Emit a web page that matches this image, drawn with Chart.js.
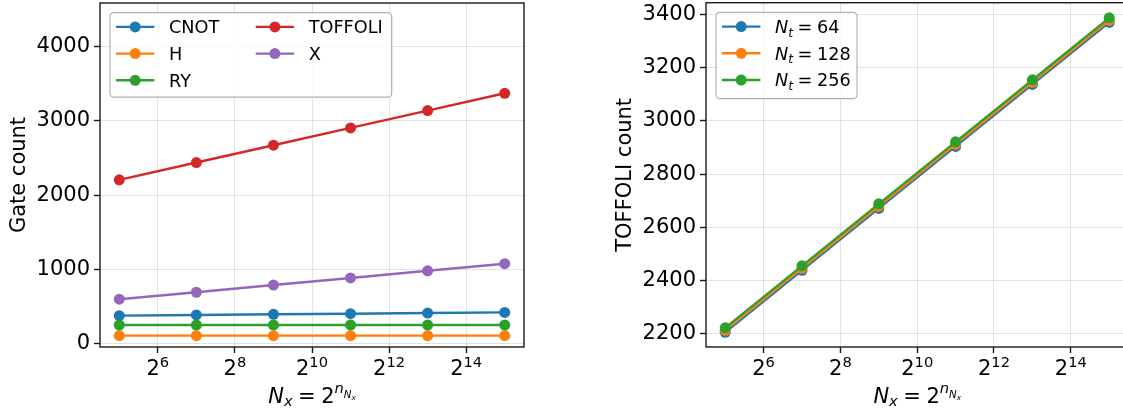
<!DOCTYPE html>
<html>
<head>
<meta charset="utf-8">
<script src="https://cdn.jsdelivr.net/npm/chart.js@4.4.1/dist/chart.umd.min.js"></script>
<style>
  html, body { margin: 0; padding: 0; background: #fff; overflow: hidden; width: 1123px; height: 413px; }
  canvas { position: absolute; top: 0; }
  #gates { left: 0; }
  #toffoli { left: 560px; }
</style>
</head>
<body>
<canvas id="gates" width="560" height="413"></canvas>
<canvas id="toffoli" width="600" height="413"></canvas>
<script>
// Grid sizes N_x = 2^n
const sizesNx = [32, 128, 512, 2048, 8192, 32768];
const xTickValues = [64, 256, 1024, 4096, 16384];
const xTickExponents = ['6', '8', '10', '12', '14'];

// Gate counts per gate type
const gateNames = ['CNOT', 'H', 'RY', 'TOFFOLI', 'X'];
const cnotCount = [377, 386, 395, 403, 412, 421];
const hCount = [108, 108, 108, 108, 108, 108];
const ryCount = [251, 251, 251, 251, 251, 251];
const toffoliCount = [2205, 2438, 2671, 2904, 3137, 3370];
const xCount = [598, 692, 789, 884, 981, 1076];
const gateTicks = [0, 1000, 2000, 3000, 4000];

// TOFFOLI counts for several time-step counts N_t
const ntLabels = ['64', '128', '256'];
const toffoliNt64 = [2205, 2438, 2671, 2904, 3137, 3370];
const toffoliNt128 = [2213, 2446, 2679, 2912, 3145, 3378];
const toffoliNt256 = [2222, 2455, 2688, 2921, 3154, 3387];
const toffoliTicks = [2200, 2400, 2600, 2800, 3000, 3200, 3400];

const C = { blue: '#1f77b4', orange: '#ff7f0e', green: '#2ca02c', red: '#d62728', purple: '#9467bd' };
const FAMILY = "'DejaVu Sans', sans-serif";
const GRID = 'rgba(176,176,176,0.35)';
const INK = '#000';
const LINE_W = 2.4;
const MARK_R = 5.5;

function font(size, italic) {
  return (italic ? 'italic ' : '') + size + 'px ' + FAMILY;
}

// Draw a sequence of text runs (used for math-style labels with sub/superscripts)
function runsWidth(ctx, runs) {
  let w = 0;
  for (const r of runs) {
    ctx.font = font(r.size, r.italic);
    w += (r.gap || 0) + ctx.measureText(r.t).width;
  }
  return w;
}
function drawRuns(ctx, runs, x, y, align) {
  let cx = align === 'center' ? x - runsWidth(ctx, runs) / 2 : x;
  ctx.textAlign = 'left';
  ctx.textBaseline = 'alphabetic';
  ctx.fillStyle = INK;
  for (const r of runs) {
    cx += r.gap || 0;
    ctx.font = font(r.size, r.italic);
    ctx.fillText(r.t, cx, y + (r.dy || 0));
    cx += ctx.measureText(r.t).width;
  }
}

const xTitleRuns = [
  { t: 'N', size: 21, italic: true },
  { t: 'x', size: 14.7, italic: true, dy: 3 },
  { t: '=', size: 21, gap: 5.5 },
  { t: '2', size: 21, gap: 5.5 },
  { t: 'n', size: 14.7, italic: true, dy: -9.4 },
  { t: 'N', size: 10.3, italic: true, dy: -4.4 },
  { t: 'x', size: 7.2, italic: true, dy: -3 }
];

function makeDataset(label, values, color, i, n) {
  return {
    label,
    data: values.map((v, k) => ({ x: sizesNx[k], y: v })),
    borderColor: color,
    backgroundColor: color,
    pointBackgroundColor: color,
    pointBorderWidth: 0,
    pointRadius: MARK_R,
    pointHoverRadius: MARK_R,
    borderWidth: LINE_W,
    tension: 0,
    order: n - i
  };
}

function decorations(opts) {
  return {
    id: 'decorations',
    afterDatasetsDraw(chart) {
      const ctx = chart.ctx;
      const a = chart.chartArea;
      const xs = chart.scales.x;
      ctx.save();

      // axes frame
      ctx.strokeStyle = '#1a1a1a';
      ctx.lineWidth = 1.4;
      ctx.strokeRect(a.left, a.top, a.right - a.left, a.bottom - a.top);

      // x tick labels 2^k
      xTickValues.forEach((v, i) => {
        const px = xs.getPixelForValue(v);
        drawRuns(ctx, [
          { t: '2', size: 21 },
          { t: xTickExponents[i], size: 14.7, dy: -8.3 }
        ], px, 375, 'center');
      });

      // x title
      drawRuns(ctx, xTitleRuns, (a.left + a.right) / 2 + opts.xTitleShift, 402.7, 'center');

      // y title
      ctx.save();
      ctx.translate(a.left - 75, (a.top + a.bottom) / 2);
      ctx.rotate(-Math.PI / 2);
      ctx.font = font(21);
      ctx.fillStyle = INK;
      ctx.textAlign = 'center';
      ctx.textBaseline = 'alphabetic';
      ctx.fillText(opts.yTitle, 0, 0);
      ctx.restore();

      // legend
      const L = opts.legend;
      const bx = a.left + 10, by = a.top + 9.6;
      ctx.beginPath();
      ctx.roundRect(bx, by, L.w, L.h, 4);
      ctx.fillStyle = 'rgba(255,255,255,0.8)';
      ctx.fill();
      ctx.strokeStyle = '#b0b0b0';
      ctx.lineWidth = 1.2;
      ctx.stroke();
      L.items.forEach(it => {
        const col = it.col, row = it.row;
        const cy = by + 14.3 + row * 26.7;
        const hx = bx + 6 + col * 139.7;
        ctx.strokeStyle = it.color;
        ctx.lineWidth = LINE_W;
        ctx.beginPath();
        ctx.moveTo(hx, cy);
        ctx.lineTo(hx + 38.4, cy);
        ctx.stroke();
        ctx.fillStyle = it.color;
        ctx.beginPath();
        ctx.arc(hx + 19.2, cy, MARK_R, 0, Math.PI * 2);
        ctx.fill();
        drawRuns(ctx, it.runs, hx + 53, cy + 6.4, 'left');
      });

      ctx.restore();
    }
  };
}

function makeChart(id, datasets, yMin, yMax, yTickList, yAxisWidth, padding, opts) {
  return new Chart(document.getElementById(id), {
    type: 'line',
    data: { datasets },
    options: {
      responsive: false,
      devicePixelRatio: 1,
      animation: false,
      events: [],
      layout: { padding, autoPadding: false },
      plugins: { legend: { display: false }, tooltip: { enabled: false } },
      scales: {
        x: {
          type: 'logarithmic',
          min: Math.pow(2, 4.5),
          max: Math.pow(2, 15.5),
          afterBuildTicks: s => { s.ticks = xTickValues.map(v => ({ value: v })); },
          ticks: { display: false },
          grid: { color: GRID, lineWidth: 1, tickColor: '#1a1a1a', tickLength: 6, tickWidth: 1.4, drawTicks: true },
          border: { display: false },
          afterFit: s => { s.height = 66; s.paddingLeft = 0; s.paddingRight = 0; }
        },
        y: {
          type: 'linear',
          min: yMin,
          max: yMax,
          afterBuildTicks: s => { s.ticks = yTickList.map(v => ({ value: v })); },
          ticks: {
            font: { family: FAMILY, size: 21 },
            color: INK,
            padding: 4,
            callback: v => String(v)
          },
          grid: { color: GRID, lineWidth: 1, tickColor: '#1a1a1a', tickLength: 6, tickWidth: 1.4, drawTicks: true },
          border: { display: false },
          afterFit: s => { s.width = yAxisWidth; s.paddingTop = 0; s.paddingBottom = 0; }
        }
      }
    },
    plugins: [decorations(opts)]
  });
}

// Left panel: gate counts by type
const gateSeries = [cnotCount, hCount, ryCount, toffoliCount, xCount];
const gateColors = [C.blue, C.orange, C.green, C.red, C.purple];
makeChart('gates',
  gateSeries.map((vals, i) => makeDataset(gateNames[i], vals, gateColors[i], i, gateSeries.length)),
  -45, 4585, gateTicks, 100, { left: 0, top: 3, right: 36, bottom: 0 },
  {
    yTitle: 'Gate count',
    xTitleShift: 0,
    legend: {
      w: 281.7, h: 84.6,
      items: gateNames.map((name, i) => ({
        color: gateColors[i], col: i < 3 ? 0 : 1, row: i < 3 ? i : i - 3,
        runs: [{ t: name, size: 17.7 }]
      }))
    }
  });

// Right panel: TOFFOLI count for several N_t
const ntSeries = [toffoliNt64, toffoliNt128, toffoliNt256];
const ntColors = [C.blue, C.orange, C.green];
makeChart('toffoli',
  ntSeries.map((vals, i) => makeDataset('N_t = ' + ntLabels[i], vals, ntColors[i], i, ntSeries.length)),
  2150, 3444, toffoliTicks, 146, { left: 0, top: 2.7, right: 31.6, bottom: 0 },
  {
    yTitle: 'TOFFOLI count',
    xTitleShift: 0,
    legend: {
      w: 141, h: 86.4,
      items: ntLabels.map((lab, i) => ({
        color: ntColors[i], col: 0, row: i,
        runs: [
          { t: 'N', size: 17.7, italic: true },
          { t: 't', size: 12.4, italic: true, dy: 3.5 },
          { t: '=', size: 17.7, gap: 4.5 },
          { t: lab, size: 17.7, gap: 4.5 }
        ]
      }))
    }
  });
</script>
</body>
</html>
